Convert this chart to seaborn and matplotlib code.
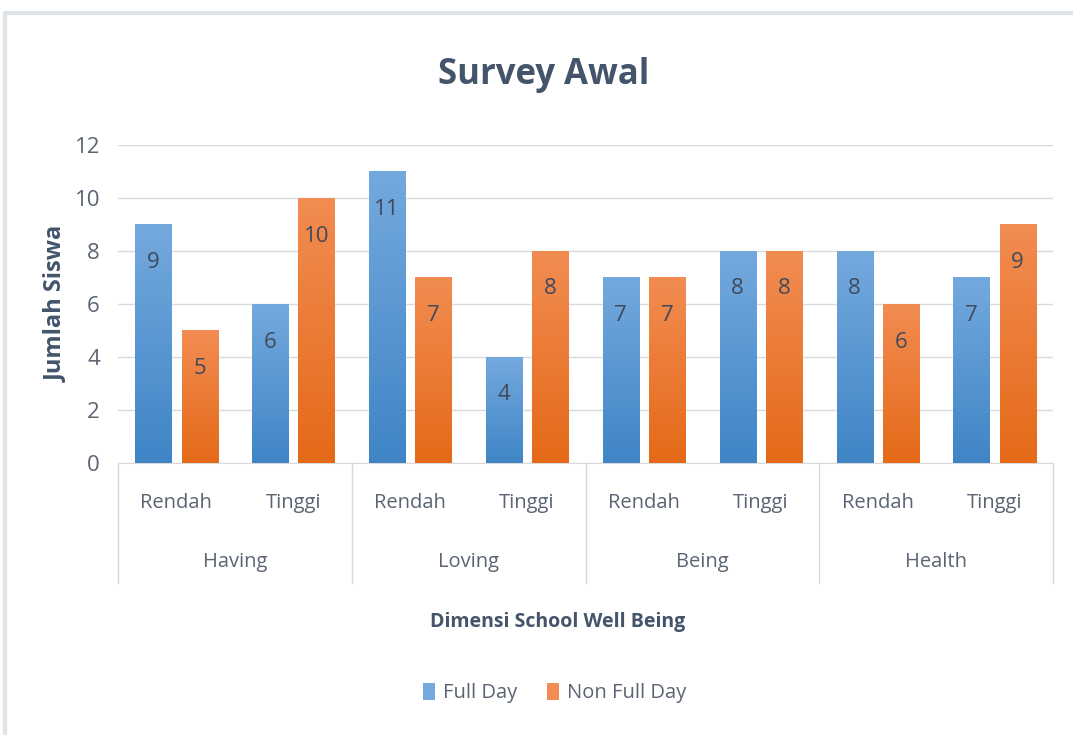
import numpy as np
import matplotlib
matplotlib.use("Agg")
import matplotlib.pyplot as plt
import pandas as pd
import seaborn as sns
from matplotlib.lines import Line2D
from matplotlib.patches import Patch

# data
dimensi = ["Having", "Loving", "Being", "Health"]
tingkat = ["Rendah", "Tinggi"]
full_day = [9, 6, 11, 4, 7, 8, 8, 7]
non_full_day = [5, 10, 7, 8, 7, 8, 6, 9]
series = ["Full Day", "Non Full Day"]

pos = [d + "-" + t for d in dimensi for t in tingkat]
df = pd.DataFrame({
    "pos": pos * 2,
    "Jumlah Siswa": full_day + non_full_day,
    "seri": [series[0]] * len(pos) + [series[1]] * len(pos),
})

sns.set_style("white")
plt.rcParams["font.family"] = ["Open Sans", "DejaVu Sans"]
txt = "#44546a"
grid = "#d9d9d9"
top_c = {"Full Day": "#74a9de", "Non Full Day": "#f28c52"}
bot_c = {"Full Day": "#3f85c6", "Non Full Day": "#e46a18"}

fig = plt.figure(figsize=(10.73, 7.35), dpi=100)
ax = fig.add_axes([118 / 1073, 1 - 463 / 735, 935 / 1073, 318 / 735])

sns.barplot(data=df, x="pos", y="Jumlah Siswa", hue="seri", order=pos,
            hue_order=series, width=0.79, gap=0.22, ax=ax, legend=False,
            palette=[top_c[s] for s in series], saturation=1, zorder=2)

xl = (-0.5, len(pos) - 0.5)
# gradien di tiap bar
for i, p in enumerate(ax.patches):
    s = series[i // len(pos)]
    x0, w, h = p.get_x(), p.get_width(), p.get_height()
    cmap = matplotlib.colors.LinearSegmentedColormap.from_list("g", [bot_c[s], top_c[s]])
    g = np.linspace(0, 1, 100).reshape(-1, 1)
    ax.imshow(g, extent=[x0, x0 + w, 0, h], origin="lower", aspect="auto",
              cmap=cmap, zorder=3)
    ax.annotate(str(int(h)), (x0 + w / 2, h), xytext=(0, -38),
                textcoords="offset pixels", ha="center", va="center",
                fontsize=16, color="#404a5a", zorder=4)

ax.set_xlim(*xl)
ax.set_ylim(0, 12)
ax.set_yticks(range(0, 13, 2))
ax.tick_params(axis="y", labelsize=16, labelcolor="#5a6473", length=0, pad=13)
ax.grid(axis="y", color=grid, lw=1, zorder=0)
ax.set_axisbelow(True)
for sp in ["top", "right", "left"]:
    ax.spines[sp].set_visible(False)
ax.spines["bottom"].set_color(grid)
ax.set_xticks([])
ax.set_xlabel("")
ax.set_ylabel("Jumlah Siswa", fontsize=17, fontweight="bold", color=txt)
ax.yaxis.set_label_coords(-50 / 935, 0.5)

# sumbu kategori bertingkat
tr = ax.get_xaxis_transform()
for k in range(len(dimensi) + 1):
    ax.add_line(Line2D([k * 2 - 0.5] * 2, [0, -120 / 318], transform=tr,
                       color=grid, lw=1, clip_on=False))
for j, t in enumerate(pos):
    ax.text(j, -40 / 318, t.split("-")[1], transform=tr, ha="center", va="center",
            fontsize=14.5, color="#5a6473")
for k, d in enumerate(dimensi):
    ax.text(k * 2 + 0.5, -99 / 318, d, transform=tr, ha="center", va="center",
            fontsize=14.5, color="#5a6473")

fig.text(0.507, 1 - 75 / 735, "Survey Awal", ha="center", va="center",
         fontsize=25, fontweight="bold", color=txt)
fig.text(0.52, 1 - 622 / 735, "Dimensi School Well Being", ha="center", va="center",
         fontsize=14, fontweight="bold", color=txt)

handles = [Patch(facecolor=top_c[s], edgecolor="none") for s in series]
fig.legend(handles, series, loc="center", bbox_to_anchor=(0.517, 1 - 693 / 735),
           ncol=2, frameon=False, fontsize=14.5, labelcolor="#5a6473",
           handlelength=0.6, handleheight=0.9, handletextpad=0.4, columnspacing=1.5)

# bingkai chart
fig.add_artist(Line2D([5 / 1073, 1], [1 - 13 / 735] * 2, color="#dfe3ea", lw=3))
fig.add_artist(Line2D([5 / 1073] * 2, [0, 1 - 13 / 735], color="#dfe3ea", lw=3))

fig.savefig("out.png", dpi=100)
